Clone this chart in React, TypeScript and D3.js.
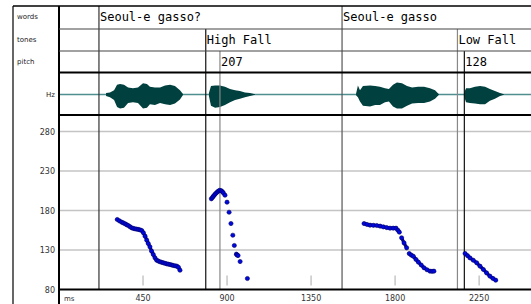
import React from "react";
import * as d3 from "d3";

// annotation tiers (times in ms)
const words = [
  { label: "Seoul-e gasso?", start: 214 },
  { label: "Seoul-e gasso", start: 1516 },
];
const tones = [
  { label: "High Fall", start: 786 },
  { label: "Low Fall", start: 2134 },
];
const pitchMarks = [
  { label: "207", at: 862 },
  { label: "128", at: 2171 },
];
const tierLabels = ["words", "tones", "pitch"];
const hzTicks = [80, 130, 180, 230, 280];
const msTicks = [450, 900, 1350, 1800, 2250];

// waveform envelope: [ms, upper, lower] (relative amplitude)
const wave1: [number, number, number][] = [
  [252, 0.1, -0.1], [273, 0.15, -0.2], [295, 0.3, -0.4], [311, 0.7, -0.9], [327, 0.75, -1.0],
  [348, 0.7, -0.95], [370, 0.5, -0.6], [396, 0.45, -0.55], [423, 0.5, -0.6], [450, 0.8, -1.0],
  [471, 0.75, -0.95], [487, 0.55, -0.7], [514, 0.5, -0.75], [541, 0.5, -0.6], [568, 0.65, -0.7],
  [595, 0.7, -0.75], [621, 0.6, -0.65], [648, 0.3, -0.35], [664, 0.03, -0.03],
];
const wave2: [number, number, number][] = [
  [803, 0.1, -0.1], [814, 0.6, -0.8], [836, 0.65, -0.95], [862, 0.65, -0.9], [889, 0.55, -0.75],
  [916, 0.4, -0.55], [943, 0.3, -0.4], [969, 0.25, -0.3], [996, 0.15, -0.2], [1023, 0.1, -0.1],
  [1050, 0.02, -0.02],
];
const wave3: [number, number, number][] = [
  [1591, 0.05, -0.05], [1601, 0.65, -0.2], [1612, 0.3, -0.5], [1628, 0.6, -0.8], [1666, 0.65, -0.85],
  [1693, 0.6, -0.75], [1719, 0.55, -0.75], [1746, 0.45, -0.55], [1767, 0.4, -0.5], [1789, 0.7, -0.85],
  [1810, 0.85, -1.0], [1837, 0.8, -1.0], [1864, 0.6, -0.8], [1891, 0.5, -0.65], [1923, 0.55, -0.6],
  [1955, 0.55, -0.6], [1987, 0.45, -0.5], [2014, 0.3, -0.3], [2035, 0.02, -0.02],
];
const wave4: [number, number, number][] = [
  [2169, 0.1, -0.1], [2180, 0.45, -0.55], [2201, 0.45, -0.6], [2228, 0.55, -0.65], [2255, 0.6, -0.7],
  [2282, 0.55, -0.7], [2308, 0.4, -0.45], [2335, 0.25, -0.3], [2362, 0.1, -0.1], [2383, 0.02, -0.02],
];

// f0 track: [ms, Hz]
const f0a: [number, number][] = [
  [312, 168.6], [324, 166.8], [336, 165.2], [345, 164.2], [354, 163.2], [362, 162], [371, 161],
  [380, 159.5], [389, 158.1], [398, 157.3], [407, 156.8], [416, 156.4], [425, 156], [434, 155.4],
  [443, 154.7], [452, 151.8], [461, 147.5], [470, 142.4], [478, 138.2], [487, 134], [496, 128.5],
  [505, 124.3], [514, 120.1], [523, 117.1], [532, 116], [541, 115.1], [550, 114.4], [559, 113.8],
  [568, 113.1], [577, 112.5], [586, 112], [595, 111.6], [604, 111], [612, 110.4], [622, 110],
  [631, 109.5], [640, 108], [648, 104.4],
];
const f0b: [number, number][] = [
  [816, 194.8], [822, 196.5], [827, 198.1], [833, 199.8], [839, 201.5], [846, 203], [853, 204.4],
  [860, 205.5], [868, 205.2], [874, 204], [880, 202.4], [889, 199.4], [900, 190.5], [911, 177.8],
  [921, 163.5], [931, 148.7], [939, 135.7], [950, 124.7], [954, 123.6], [959, 123], [970, 115.4],
  [1009, 93.9],
];
const f0c: [number, number][] = [
  [1634, 163.5], [1650, 162.3], [1666, 161.4], [1684, 161.2], [1702, 161], [1720, 160.2],
  [1737, 159.3], [1755, 158.4], [1773, 157.6], [1790, 157.6], [1805, 157.6], [1815, 155],
  [1823, 152.6], [1835, 145.4], [1848, 139], [1862, 132.7], [1876, 125.5], [1887, 123.5],
  [1898, 122], [1912, 118], [1925, 114.6], [1940, 111], [1955, 107.5], [1971, 105], [1987, 103.2],
  [1998, 103], [2008, 103.2],
];
const f0d: [number, number][] = [
  [2175, 125.6], [2188, 122.8], [2201, 120], [2219, 117], [2237, 113.8], [2255, 109.5],
  [2273, 105.3], [2290, 101], [2308, 96.9], [2324, 94], [2339, 91.8],
];

const W = 531;
const H = 304;
const frameX = 13;
const colX = 59;
const rowY = [6, 29, 51, 72.5, 115];
const axisY = 289.5;
const waveY = 94.5;

const wordLineColor = ["#333", "#555"];
const toneLineColor = ["#111", "#888"];
const pitchLineColor = ["#888", "#111"];

const mono = "'DejaVu Sans Mono', monospace";
const sans = "'DejaVu Sans', sans-serif";

const App: React.FC = () => {
  const x = d3.scaleLinear().domain([0, 2528]).range([colX, W]);
  const y = d3.scaleLinear().domain([80, 280]).range([axisY, 131.5]);
  const amp = d3.scaleLinear().domain([-1, 1]).range([waveY + 14, waveY - 14]);

  const waveArea = d3
    .area<[number, number, number]>()
    .x((d) => x(d[0]))
    .y0((d) => amp(d[2]))
    .y1((d) => amp(d[1]));

  // join neighbouring f0 points that sit close together, as the dense track does
  const trackLines = (pts: [number, number][]) => {
    const segs: string[] = [];
    for (let i = 1; i < pts.length; i++) {
      const x0 = x(pts[i - 1][0]), y0 = y(pts[i - 1][1]);
      const x1 = x(pts[i][0]), y1 = y(pts[i][1]);
      if (Math.hypot(x1 - x0, y1 - y0) < 6) segs.push(`M${x0},${y0}L${x1},${y1}`);
    }
    return segs.join("");
  };

  return (
    <svg width={W} height={H} style={{ position: "absolute", left: 0, top: 0, background: "#fff" }}>
      {/* grid */}
      {hzTicks.slice(1).map((t) => (
        <line key={t} x1={colX} x2={W} y1={y(t)} y2={y(t)} stroke="#c4c4c4" strokeWidth={1.5} />
      ))}
      {/* ms ticks */}
      {msTicks.map((t) => (
        <g key={t}>
          <line x1={x(t)} x2={x(t)} y1={axisY - 14} y2={axisY - 4} stroke="#aaa" />
          <text x={x(t)} y={axisY + 11} textAnchor="middle" fontFamily={sans} fontSize={8} fill="#333">
            {t}
          </text>
        </g>
      ))}
      <text x={64} y={axisY + 11} fontFamily={sans} fontSize={7} fill="#333">ms</text>
      {hzTicks.map((t) => (
        <text key={t} x={55} y={y(t) + 3} textAnchor="end" fontFamily={sans} fontSize={8} fill="#333">
          {t}
        </text>
      ))}

      {/* waveform */}
      <line x1={colX} x2={W} y1={waveY} y2={waveY} stroke="#4f8f8f" strokeWidth={1.5} />
      {[wave1, wave2, wave3, wave4].map((w, i) => (
        <path key={i} d={waveArea(w) || ""} fill="#00403f" />
      ))}

      {/* boundaries */}
      {words.map((w, i) => (
        <line key={w.label} x1={x(w.start)} x2={x(w.start)} y1={rowY[0]} y2={axisY} stroke={wordLineColor[i]} strokeWidth={1.2} />
      ))}
      {tones.map((t, i) => (
        <line key={t.label} x1={x(t.start)} x2={x(t.start)} y1={rowY[1]} y2={axisY} stroke={toneLineColor[i]} strokeWidth={1.2} />
      ))}
      {pitchMarks.map((p, i) => (
        <line key={p.label} x1={x(p.at)} x2={x(p.at)} y1={rowY[2]} y2={axisY} stroke={pitchLineColor[i]} strokeWidth={1.2} />
      ))}

      {/* frame */}
      <line x1={frameX} x2={W} y1={rowY[0]} y2={rowY[0]} stroke="#000" strokeWidth={1.5} />
      <line x1={frameX} x2={frameX} y1={rowY[0]} y2={H} stroke="#000" strokeWidth={1.2} />
      <line x1={colX} x2={colX} y1={rowY[0]} y2={H} stroke="#000" strokeWidth={2} />
      <line x1={colX} x2={W} y1={rowY[1]} y2={rowY[1]} stroke="#444" strokeWidth={1.2} />
      <line x1={colX} x2={W} y1={rowY[2]} y2={rowY[2]} stroke="#444" strokeWidth={1.2} />
      <line x1={colX} x2={W} y1={rowY[3]} y2={rowY[3]} stroke="#000" strokeWidth={2} />
      <line x1={colX} x2={W} y1={rowY[4]} y2={rowY[4]} stroke="#000" strokeWidth={2} />
      <line x1={colX} x2={W} y1={axisY} y2={axisY} stroke="#000" strokeWidth={2} />

      {/* tier labels */}
      {tierLabels.map((l, i) => (
        <text key={l} x={17} y={rowY[i] + 13} fontFamily={sans} fontSize={7} fill="#222">
          {l}
        </text>
      ))}
      <text x={55} y={waveY + 2.5} textAnchor="end" fontFamily={sans} fontSize={7} fill="#222">Hz</text>

      {/* tier texts */}
      {words.map((w) => (
        <text key={w.label} x={x(w.start) + 1} y={rowY[0] + 15} fontFamily={mono} fontSize={12} fill="#000">
          {w.label}
        </text>
      ))}
      {tones.map((t) => (
        <text key={t.label} x={x(t.start) + 1} y={rowY[1] + 15} fontFamily={mono} fontSize={12} fill="#000">
          {t.label}
        </text>
      ))}
      {pitchMarks.map((p) => (
        <text key={p.label} x={x(p.at) + 1} y={rowY[2] + 15} fontFamily={mono} fontSize={12} fill="#000">
          {p.label}
        </text>
      ))}

      {/* f0 track */}
      {[f0a, f0b, f0c, f0d].map((pts, i) => (
        <g key={i}>
          <path d={trackLines(pts)} stroke="#00089a" strokeWidth={3.2} fill="none" strokeLinecap="round" />
          {pts.map((d, j) => (
            <circle key={j} cx={x(d[0])} cy={y(d[1])} r={2.1} fill="#0008e0" stroke="#000060" strokeWidth={0.6} />
          ))}
        </g>
      ))}
    </svg>
  );
};

export default App;
